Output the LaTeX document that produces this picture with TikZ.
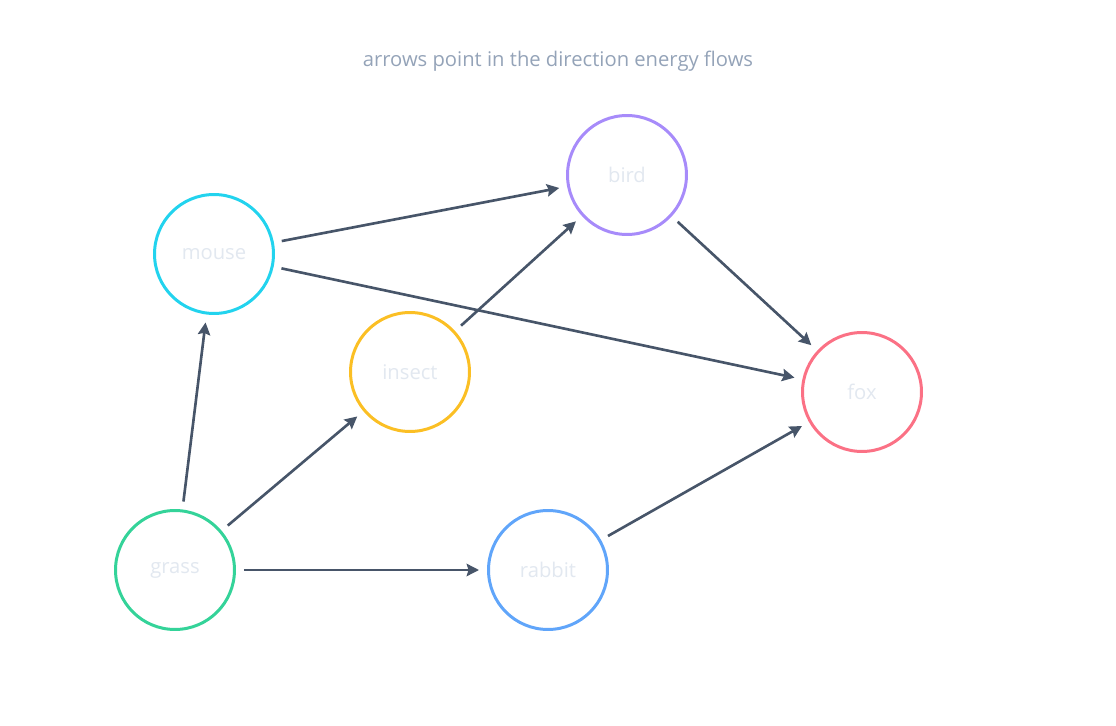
\documentclass[tikz,border=0pt]{standalone}
\usepackage{fontspec}
\setmainfont{Open Sans}
\usetikzlibrary{arrows.meta,positioning}
\definecolor{cMouse}{HTML}{22D3EE}
\definecolor{cBird}{HTML}{A78BFA}
\definecolor{cInsect}{HTML}{FBBF24}
\definecolor{cFox}{HTML}{FB7185}
\definecolor{cGrass}{HTML}{34D399}
\definecolor{cRabbit}{HTML}{60A5FA}
\definecolor{cEdge}{HTML}{475569}
\definecolor{cLabel}{HTML}{E2E8F0}
\definecolor{cTitle}{HTML}{94A3B8}
\begin{document}
\begin{tikzpicture}[x=0.02cm,y=-0.02cm]
		\tikzstyle{Species}	= [circle, draw, line width=1.7pt, fill=white, minimum size=2.38cm, inner sep=0pt, text=cLabel, font=\fontsize{11.5}{13}\selectfont]
		\tikzstyle{Flow}	= [-{Stealth[length=7pt,width=7pt,inset=1pt]}, line width=1.5pt, cEdge, shorten <=0.16cm, shorten >=0.16cm]
		
		\useasboundingbox (0,0) rectangle (1116,726);
		\node (title) at (558,61) [text=cTitle, font=\fontsize{11.5}{13}\selectfont] {arrows point in the direction energy flows};
		
		\node (mouse) at (214,254) [Species, draw=cMouse] {mouse};
		\node (bird) at (627,175) [Species, draw=cBird] {bird};
		\node (insect) at (410,372) [Species, draw=cInsect] {insect};
		\node (fox) at (862,392) [Species, draw=cFox] {fox};
		\node (grass) at (175,570) [Species, draw=cGrass] {grass};
		\node (rabbit) at (548,570) [Species, draw=cRabbit] {rabbit};
		
		\draw (grass) to (mouse) [Flow];
		\draw (grass) to (insect) [Flow];
		\draw (grass) to (rabbit) [Flow];
		\draw (mouse) to (bird) [Flow];
		\draw (mouse) to (fox) [Flow];
		\draw (insect) to (bird) [Flow];
		\draw (bird) to (fox) [Flow];
		\draw (rabbit) to (fox) [Flow];
	\end{tikzpicture}
\end{document}
